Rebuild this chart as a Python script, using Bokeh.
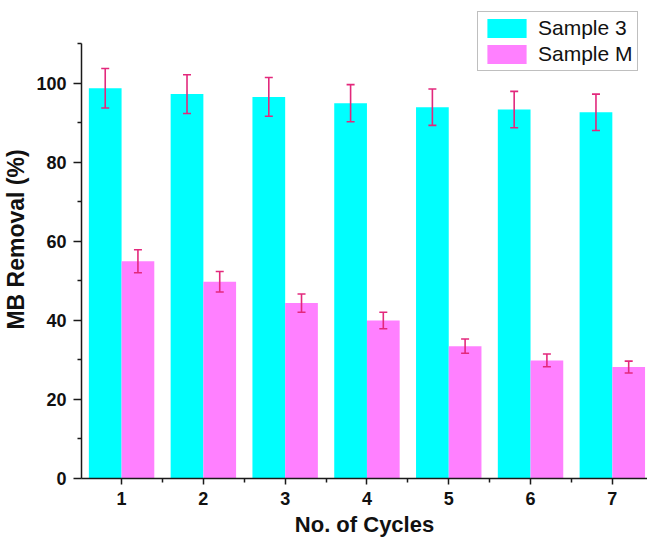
from bokeh.plotting import figure
from bokeh.models import (ColumnDataSource, Range1d, FixedTicker, Whisker, TeeHead,
                          Legend, LegendItem)
from bokeh.embed import file_html
from bokeh.resources import INLINE

# MB removal over repeated adsorption cycles
cycles = [1, 2, 3, 4, 5, 6, 7]
sample3_removal = [98.8, 97.3, 96.6, 95.0, 94.0, 93.4, 92.7]
sample3_error = [5.0, 4.9, 4.9, 4.7, 4.6, 4.6, 4.6]
sampleM_removal = [55.0, 49.8, 44.4, 40.0, 33.5, 29.9, 28.2]
sampleM_error = [2.9, 2.6, 2.3, 2.1, 1.8, 1.6, 1.5]
y_ticks = [0, 20, 40, 60, 80, 100]

BAR_W = 0.4
CYAN = "#00ffff"
PINK = "#ff80ff"
ERR = "#e3287c"
FONT = "Liberation Sans"

def make_source(values, errors, shift):
    return ColumnDataSource(dict(
        x=[c + shift for c in cycles],
        top=values,
        upper=[v + e for v, e in zip(values, errors)],
        lower=[v - e for v, e in zip(values, errors)],
    ))

src3 = make_source(sample3_removal, sample3_error, -BAR_W / 2)
srcM = make_source(sampleM_removal, sampleM_error, BAR_W / 2)

# frame runs to the top edge so the legend can sit above the axis end
p = figure(width=647, height=539, output_backend="svg", toolbar_location=None,
           x_range=Range1d(0.51, 7.43), y_range=Range1d(0, 121),
           min_border_left=80, min_border_right=0, min_border_top=0,
           min_border_bottom=61)
p.outline_line_color = None
p.xgrid.visible = False
p.ygrid.visible = False

r3 = p.vbar(x="x", top="top", width=BAR_W, source=src3, fill_color=CYAN, line_color=None)
rM = p.vbar(x="x", top="top", width=BAR_W, source=srcM, fill_color=PINK, line_color=None)

for src in (src3, srcM):
    w = Whisker(source=src, base="x", upper="upper", lower="lower",
                line_color=ERR, line_width=1.6, level="overlay",
                upper_head=TeeHead(size=8, line_color=ERR, line_width=1.6),
                lower_head=TeeHead(size=8, line_color=ERR, line_width=1.6))
    p.add_layout(w)

# axes
p.xaxis.ticker = FixedTicker(ticks=cycles, minor_ticks=[c - 0.5 for c in cycles])
p.yaxis.ticker = FixedTicker(ticks=y_ticks, minor_ticks=[t + 10 for t in y_ticks])
p.yaxis.bounds = (0, 110)
for ax in (p.xaxis, p.yaxis):
    ax.axis_line_color = "#1a1a1a"
    ax.axis_line_width = 1.5
    ax.major_tick_line_color = "#1a1a1a"
    ax.minor_tick_line_color = "#1a1a1a"
    ax.major_tick_line_width = 1.5
    ax.minor_tick_line_width = 1.5
    ax.major_tick_in = 0
    ax.minor_tick_in = 0
    ax.major_label_text_font = FONT
    ax.major_label_text_font_style = "bold"
    ax.major_label_text_font_size = "18px"
    ax.major_label_text_color = "#111111"
    ax.axis_label_text_font = FONT
    ax.axis_label_text_font_style = "bold"
    ax.axis_label_text_color = "#111111"

p.xaxis.major_tick_out = 6
p.xaxis.minor_tick_out = 4
p.yaxis.major_tick_out = 8
p.yaxis.minor_tick_out = 4
p.xaxis.major_label_standoff = 7
p.yaxis.major_label_standoff = 7
p.xaxis.axis_label = "No. of Cycles"
p.yaxis.axis_label = "MB Removal (%)"
p.xaxis.axis_label_text_font_size = "22px"
p.yaxis.axis_label_text_font_size = "23px"
p.xaxis.axis_label_standoff = 4
p.yaxis.axis_label_standoff = 4

legend = Legend(items=[LegendItem(label="Sample 3", renderers=[r3]),
                       LegendItem(label="Sample M", renderers=[rM])],
                location=(396, 407), orientation="vertical",
                glyph_width=49, glyph_height=24, label_height=24,
                label_standoff=7, padding=4, spacing=2, margin=0,
                label_text_font=FONT, label_text_font_size="21px",
                label_text_color="#111111",
                border_line_color="#7f7f7f", border_line_width=1.2,
                background_fill_color="white", background_fill_alpha=1)
p.add_layout(legend, "center")

open("out.html", "w").write(file_html(p, INLINE))
